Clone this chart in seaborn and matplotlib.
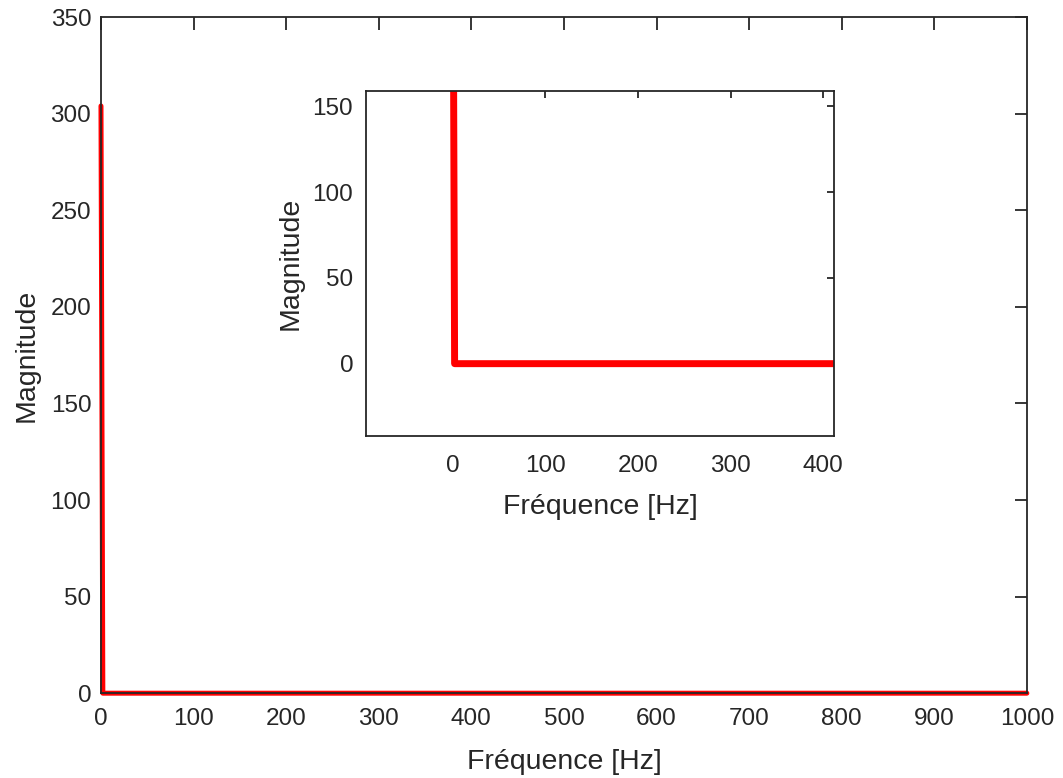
import matplotlib
matplotlib.use("Agg")
import matplotlib.pyplot as plt
import seaborn as sns
import pandas as pd

# spectrum: DC peak at 0 Hz, zero elsewhere
freq = [0, 2, 1000]
magnitude = [304, 0, 0]

main_xticks = [0, 100, 200, 300, 400, 500, 600, 700, 800, 900, 1000]
main_yticks = [0, 50, 100, 150, 200, 250, 300, 350]
inset_xticks = [0, 100, 200, 300, 400]
inset_yticks = [0, 50, 100, 150]

df = pd.DataFrame({"freq": freq, "mag": magnitude})

sns.set_style("white")
plt.rcParams["font.family"] = ["Liberation Sans", "DejaVu Sans"]
dark = "#262626"
plt.rcParams["text.color"] = dark
plt.rcParams["axes.labelcolor"] = dark
plt.rcParams["xtick.color"] = dark
plt.rcParams["ytick.color"] = dark


def style_axes(ax, ticklen, xpad, ypad):
    for sp in ax.spines.values():
        sp.set_color(dark)
        sp.set_linewidth(1.3)
        sp.set_visible(True)
    ax.tick_params(direction="in", top=True, right=True, length=ticklen,
                   width=1.3, labelsize=17.5)
    ax.tick_params(axis="x", pad=xpad)
    ax.tick_params(axis="y", pad=ypad)


fig = plt.figure(figsize=(10.63, 7.78), dpi=100)

# main axes
ax = fig.add_axes([0.095, 0.109, 0.871, 0.869])
sns.lineplot(data=df, x="freq", y="mag", color="red", linewidth=3.6, ax=ax)
for ln in ax.lines:
    ln.set_clip_on(False)
ax.set_xlim(0, 1000)
ax.set_ylim(0, 350)
ax.set_xticks(main_xticks)
ax.set_yticks(main_yticks)
ax.set_xlabel("Fréquence [Hz]", fontsize=20.5, labelpad=13)
ax.set_ylabel("Magnitude", fontsize=20.5, labelpad=8)
style_axes(ax, 9, 11, 7)

# zoomed inset
ins = fig.add_axes([0.344, 0.440, 0.441, 0.443])
sns.lineplot(data=df, x="freq", y="mag", color="red", linewidth=5, ax=ins)
ins.set_xlim(-94, 412)
ins.set_ylim(-42, 159)
ins.set_xticks(inset_xticks)
ins.set_yticks(inset_yticks)
ins.set_xlabel("Fréquence [Hz]", fontsize=20.5, labelpad=12)
ins.set_ylabel("Magnitude", fontsize=20.5, labelpad=6)
style_axes(ins, 5, 14, 9)

fig.savefig("out.png", dpi=100, facecolor="w")
